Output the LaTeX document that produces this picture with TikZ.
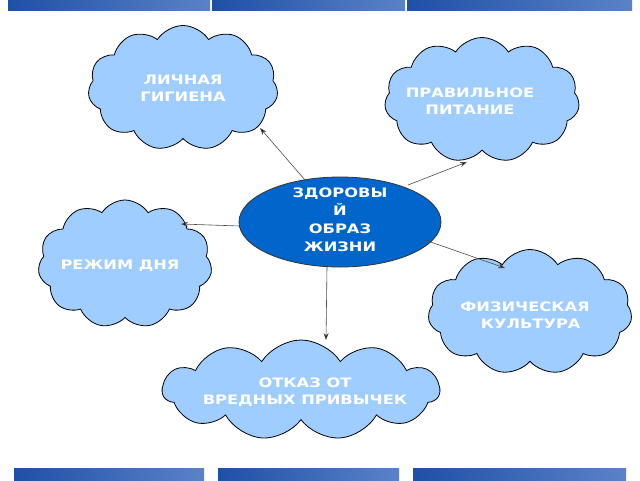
\documentclass[tikz,border=0pt]{standalone}
\usepackage{fontspec}
\setmainfont{DejaVu Sans}
\newfontfamily\lblfont[FakeStretch=1.25]{DejaVu Sans Bold}
\usetikzlibrary{shapes.symbols,shapes.geometric,arrows.meta}
\definecolor{cloudc}{RGB}{160,205,255}
\definecolor{ellc}{RGB}{0,102,204}
\definecolor{banda}{RGB}{30,80,165}
\definecolor{bandb}{RGB}{90,130,200}
\tikzset{
 cloudbox/.style={cloud, cloud puffs=11, cloud puff arc=115, draw=black, line width=0.8pt, fill=cloudc, inner sep=0pt},
 lbl/.style={font=\lblfont\fontsize{13}{17}\selectfont, text=white, align=center},
 conn/.style={draw=black!70, line width=0.6pt, -{Stealth[length=7pt,width=5pt,fill=black]}},
 band/.style={left color=banda, right color=bandb, draw=none}
}
\begin{document}
\begin{tikzpicture}[x=1pt,y=-1pt]
\useasboundingbox (0,0) rectangle (640,480);
\fill[white] (0,0) rectangle (640,480);
\foreach \a/\b in {8/210,212/405,407/632}{
 \shade[band] (\a,0) rectangle (\b,10);
 \shade[band] (\a+6,468) rectangle (\b-6,480);
}
\node[cloudbox, minimum width=190, minimum height=125] (c1) at (183,88) {};
\node[cloudbox, minimum width=195, minimum height=125] (c2) at (482,100) {};
\node[cloudbox, minimum width=174, minimum height=128] (c3) at (125,264) {};
\node[cloudbox, minimum width=204, minimum height=125] (c4) at (530,312) {};
\node[cloudbox, minimum width=277, minimum height=100] (c5) at (301,390) {};
\node[lbl] (t1) at (183,88) {ЛИЧНАЯ\\ГИГИЕНА};
\node[lbl] (t2) at (470,101) {ПРАВИЛЬНОЕ\\ПИТАНИЕ};
\node[lbl] (t3) at (120,266) {РЕЖИМ ДНЯ};
\node[lbl] (t4) at (525,315) {ФИЗИЧЕСКАЯ\\\ \ КУЛЬТУРА};
\node[lbl] (t5) at (305,392) {ОТКАЗ ОТ\\ВРЕДНЫХ ПРИВЫЧЕК};
\node[ellipse, draw=black!80, line width=0.8pt, fill=ellc, minimum width=202, minimum height=90] (e) at (340,222) {};
\begin{scope}
 \clip (340,222) ellipse [x radius=100, y radius=44];
 \node[lbl, font=\lblfont\fontsize{13}{18}\selectfont, anchor=north] (et) at (340,184) {ЗДОРОВЫ\\Й\\ОБРАЗ\\ЖИЗНИ};
\end{scope}
\coordinate (p1) at (260,128);
\coordinate (p2) at (467,162);
\coordinate (p3) at (181,224);
\coordinate (p4) at (505,268);
\coordinate (p5) at (326,340);
\draw[conn] (305,180) -- (p1);
\draw[conn] (408,185) -- (p2);
\draw[conn] (e.west) ++(1,4) -- (p3);
\draw[conn] (425,240) -- (p4);
\draw[conn] (327,267) -- (p5);
\end{tikzpicture}
\end{document}
